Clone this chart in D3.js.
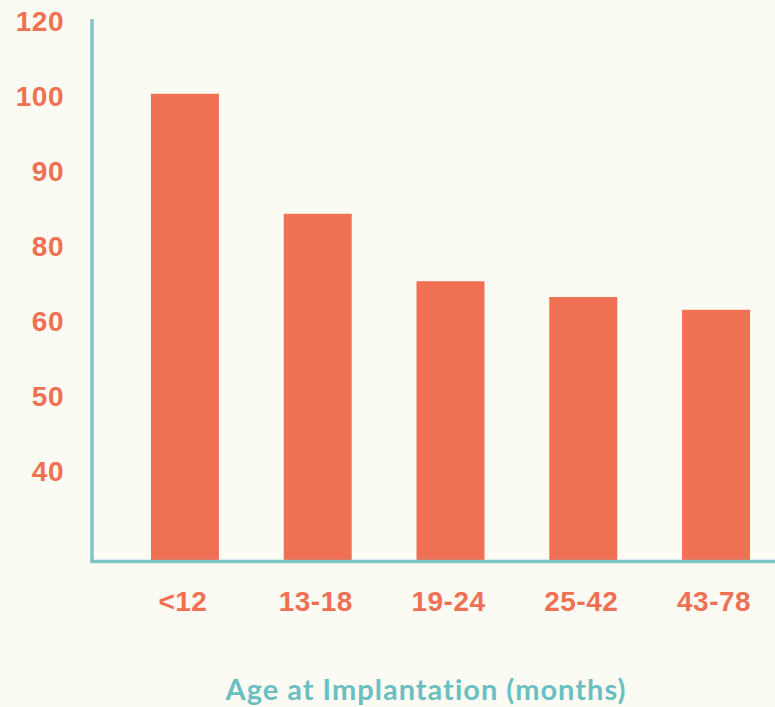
<!DOCTYPE html>
<html>
<head>
<meta charset="utf-8">
<script src="https://cdn.jsdelivr.net/npm/d3@7"></script>
<style>
  html, body { margin: 0; padding: 0; background: #fbfaf3; }
  svg { display: block; font-family: Lato, "Open Sans", sans-serif; }
</style>
</head>
<body>
<svg width="775" height="707"></svg>
<script>
var ageGroups = ['<12', '13-18', '19-24', '25-42', '43-78'],
    barValues = [100.3, 84.3, 75.3, 73.2, 71.5],
    tickValues = [110, 100, 90, 80, 70, 60, 50],
    tickLabels = ['120', '100', '90', '80', '60', '50', '40']

var svg = d3.select('svg'),
    width = +svg.attr('width'),
    height = +svg.attr('height'),
    barColor = '#ef7053',
    axisColor = '#7cc4c6',
    titleColor = '#6bbfc1'

var x = d3.scaleBand()
    .domain(ageGroups)
    .range([92, 809])
    .paddingInner(0.488)
    .paddingOuter(0.444)

var y = d3.scaleLinear()
    .domain([38, 110.27])
    .range([561, 19])

// bars
svg.append('g')
    .selectAll('rect')
    .data(barValues)
    .enter().append('rect')
    .attr('x', (d, i) => x(ageGroups[i]))
    .attr('y', d => y(d))
    .attr('width', x.bandwidth())
    .attr('height', d => y(38) - y(d))
    .attr('fill', barColor)

// y axis: only the line + labels
var yAxis = svg.append('g')
    .attr('transform', 'translate(92,0)')
    .call(d3.axisLeft(y).tickValues(tickValues).tickSize(0).tickPadding(28)
        .tickFormat((d, i) => tickLabels[i]))
yAxis.select('.domain').remove()
yAxis.selectAll('text')
    .attr('fill', barColor)
    .attr('dy', '0.34em')
    .style('font-size', '28px')
    .style('font-weight', 700)
    .style('letter-spacing', '0.5px')

svg.append('line')
    .attr('x1', 92).attr('x2', 92)
    .attr('y1', y.range()[1]).attr('y2', 563)
    .attr('stroke', axisColor)
    .attr('stroke-width', 3.5)

// x axis
var xAxis = svg.append('g')
    .attr('transform', 'translate(0,561.5)')
    .call(d3.axisBottom(x).tickSize(0).tickPadding(30))
xAxis.select('.domain').remove()
xAxis.selectAll('text')
    .attr('fill', barColor)
    .attr('dx', -2)
    .style('font-size', '28px')
    .style('font-weight', 700)
    .style('letter-spacing', '0.5px')

svg.append('line')
    .attr('x1', 90.5).attr('x2', width)
    .attr('y1', 561.5).attr('y2', 561.5)
    .attr('stroke', axisColor)
    .attr('stroke-width', 3.5)

svg.append('text')
    .attr('x', 426)
    .attr('y', 700)
    .attr('text-anchor', 'middle')
    .attr('fill', titleColor)
    .style('font-size', '29px')
    .style('font-weight', 700)
    .style('letter-spacing', '1px')
    .text('Age at Implantation (months)')
</script>
</body>
</html>
